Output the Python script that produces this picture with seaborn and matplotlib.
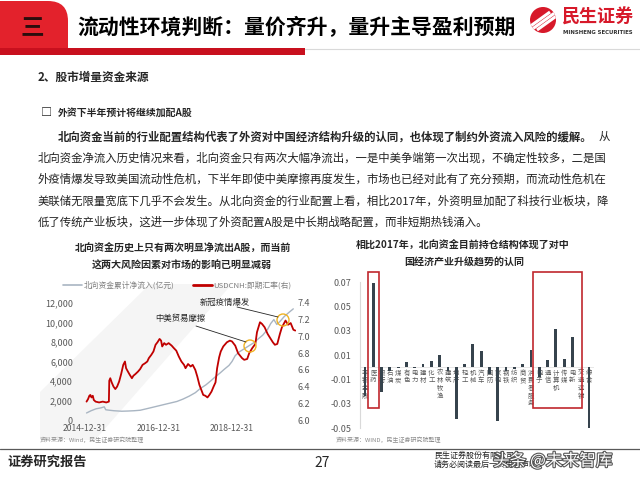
import pandas as pd
import numpy as np
import matplotlib
matplotlib.use("Agg")
import matplotlib.pyplot as plt
import matplotlib.patches as mpatches
import matplotlib.patheffects as pe
import seaborn as sns

# ---- left chart: northbound cumulative net inflow (100m CNY) ----
flow_dates = ["2015-01-15", "2015-03-01", "2015-04-20", "2015-06-10", "2015-07-10", "2015-07-25",
              "2015-09-01", "2015-10-15", "2015-12-31", "2016-03-01", "2016-05-01", "2016-07-01",
              "2016-09-01", "2016-11-01", "2016-12-31", "2017-03-01", "2017-05-01", "2017-07-01",
              "2017-09-01", "2017-11-01", "2017-12-31", "2018-02-15", "2018-04-15", "2018-06-01",
              "2018-07-15", "2018-09-01", "2018-10-15", "2018-12-01", "2018-12-31", "2019-02-01",
              "2019-03-15", "2019-05-01", "2019-06-15", "2019-08-01", "2019-09-15", "2019-11-01",
              "2019-12-20", "2020-01-20", "2020-02-20", "2020-03-20", "2020-04-20", "2020-06-01",
              "2020-07-15", "2020-08-31"]
flow_vals = [720, 950, 1150, 1250, 1350, 1050,
             1000, 950, 900, 920, 950, 1000,
             1150, 1300, 1450, 1600, 1750, 1900,
             2150, 2450, 2800, 3200, 3600, 4000,
             4400, 4800, 5200, 5600, 6000, 6600,
             7000, 7300, 7600, 7900, 8300, 8700,
             9300, 9900, 10300, 9800, 10100, 10600,
             11000, 11400]

# ---- left chart: USDCNH spot (right axis) ----
fx_dates = ["2015-01-15", "2015-01-30", "2015-02-12", "2015-02-22", "2015-03-05", "2015-03-18",
            "2015-03-28", "2015-04-15", "2015-05-20", "2015-06-25", "2015-07-30", "2015-08-25",
            "2015-08-29", "2015-09-08", "2015-09-22", "2015-10-10", "2015-10-28", "2015-11-15",
            "2015-12-05", "2015-12-25", "2016-01-15", "2016-02-01", "2016-02-12", "2016-03-01",
            "2016-03-20", "2016-04-10", "2016-04-25", "2016-05-15", "2016-06-10", "2016-07-01",
            "2016-07-25", "2016-08-20", "2016-09-10", "2016-09-25", "2016-10-20", "2016-11-10",
            "2016-12-01", "2016-12-20", "2017-01-10", "2017-01-25", "2017-02-05", "2017-02-25",
            "2017-03-15", "2017-04-10", "2017-05-10", "2017-06-01", "2017-06-25", "2017-07-20",
            "2017-08-15", "2017-09-10", "2017-09-25", "2017-10-20", "2017-11-15", "2017-12-05",
            "2017-12-31", "2018-01-20", "2018-02-10", "2018-03-01", "2018-03-20", "2018-04-10",
            "2018-05-01", "2018-05-20", "2018-06-10", "2018-07-01", "2018-07-20", "2018-08-05",
            "2018-08-25", "2018-09-10", "2018-10-05", "2018-11-10", "2018-12-10", "2018-12-31",
            "2019-02-01", "2019-03-01", "2019-04-10", "2019-05-01", "2019-05-31", "2019-06-20",
            "2019-07-20", "2019-08-20", "2019-09-05", "2019-10-05", "2019-10-25", "2019-11-20",
            "2019-12-20", "2020-01-20", "2020-02-10", "2020-03-01", "2020-03-25", "2020-04-20",
            "2020-05-10", "2020-06-15", "2020-07-10", "2020-08-05", "2020-09-01", "2020-09-20"]
fx_vals = [6.22, 6.25, 6.29, 6.30, 6.27, 6.29,
           6.24, 6.22, 6.21, 6.22, 6.21, 6.22,
           6.47, 6.50, 6.45, 6.40, 6.37, 6.40,
           6.46, 6.55, 6.66, 6.70, 6.62, 6.58,
           6.54, 6.50, 6.53, 6.55, 6.58, 6.61,
           6.66, 6.68, 6.70, 6.74, 6.78, 6.82,
           6.90, 6.93, 6.97, 6.95, 6.88, 6.92,
           6.90, 6.92, 6.89, 6.86, 6.83, 6.76,
           6.70, 6.66, 6.62, 6.67, 6.64, 6.66,
           6.60, 6.52, 6.42, 6.36, 6.30, 6.29,
           6.27, 6.30, 6.34, 6.40, 6.45, 6.62,
           6.75, 6.82, 6.88, 6.93, 6.95, 6.94,
           6.89, 6.80, 6.74, 6.72, 6.73, 6.80,
           6.86, 6.91, 7.05, 7.17, 7.15, 7.11,
           7.03, 6.97, 6.93, 6.90, 6.91, 7.03,
           7.11, 7.19, 7.14, 7.16, 7.08, 7.07]
date_ticks = ["2014-12-31", "2016-12-31", "2018-12-31"]

# ---- right chart: change in northbound holding weight vs 2017 ----
industries = ["非银金融", "医药", "银行", "石油", "煤炭", "有色", "电力", "建材", "化工", "农林牧渔",
              "建筑", "地产", "轻工", "机械", "汽车", "国防", "家电", "钢铁", "纺织", "商贸",
              "消费者服务", "电子", "通信", "计算机", "传媒", "电新", "交通运输", "综合"]
weight_chg = [-0.024, 0.069, -0.020, -0.003, -0.0005, 0.004, -0.0005, 0.003, 0.005, 0.010,
              -0.003, -0.043, 0.003, 0.019, 0.013, -0.006, -0.044, -0.003, -0.0015, 0.003,
              0.014, -0.008, 0.0055, 0.031, 0.007, 0.025, 0.0005, -0.051]

sns.set_theme(style="white")
plt.rcParams['font.family'] = ['Noto Sans CJK SC', 'DejaVu Sans']
plt.rcParams['axes.unicode_minus'] = False

fig = plt.figure(figsize=(6.4, 4.8), dpi=100)


def px(x0, y0, x1, y1):
    # pixel box -> figure fraction
    return [x0 / 640, 1 - y1 / 480, (x1 - x0) / 640, (y1 - y0) / 480]


page = fig.add_axes([0, 0, 1, 1], zorder=0)
page.set_xlim(0, 640)
page.set_ylim(480, 0)
page.axis("off")

# faint background swoosh behind the left chart
page.add_patch(mpatches.Polygon([(40, 392), (150, 284), (232, 284), (95, 440), (40, 440)],
                                closed=True, fc="#f5f5f5", ec="none"))

# header tab + rule
page.add_patch(mpatches.FancyBboxPatch((-30, 1), 98, 70, boxstyle="round,pad=0,rounding_size=20",
                                       fc="#e3222c", ec="none"))
page.add_patch(mpatches.Rectangle((0, 55), 120, 30, fc="white", ec="none"))
page.add_patch(mpatches.Rectangle((0, 48), 305, 7, fc="#c8101e", ec="none"))
page.plot([305, 640], [48.5, 48.5], color="#d9d9d9", lw=0.8)
page.text(32, 28, "三", fontsize=17, fontweight="bold", color="#2b0d0d", ha="center", va="center")
page.text(77, 28, "流动性环境判断：量价齐升，量升主导盈利预期", fontsize=15, fontweight="bold",
          color="black", ha="left", va="center")

# logo
logo = mpatches.Circle((543, 20), 13, fc="#d7192a", ec="none")
page.add_patch(logo)
for dx in (-6, 0, 6):
    ln, = page.plot([531 + dx, 556 + dx], [30, 12], color="white", lw=2.2, solid_capstyle="butt")
    ln.set_clip_path(logo)
page.text(562, 17, "民生证券", fontsize=13, fontweight="bold", color="#d7192a", ha="left", va="center")
page.text(563, 32, "MINSHENG SECURITIES", fontsize=3.9, fontweight="bold", color="#333333",
          ha="left", va="center", family="DejaVu Sans")

# section text
page.text(38, 77, "2、股市增量资金来源", fontsize=8.4, fontweight="bold", ha="left", va="center")
page.text(41, 113, "□", fontsize=8, fontweight="bold", ha="left", va="center")
page.text(58, 113, "外资下半年预计将继续加配A股", fontsize=7.1, fontweight="bold", ha="left", va="center")
page.text(58, 137, "北向资金当前的行业配置结构代表了外资对中国经济结构升级的认同，也体现了制约外资流入风险的缓解。",
          fontsize=8.2, fontweight="bold", ha="left", va="center")
page.text(599, 137, "从", fontsize=8.2, ha="left", va="center")
para = ["北向资金净流入历史情况来看，北向资金只有两次大幅净流出，一是中美争端第一次出现，不确定性较多，二是国",
        "外疫情爆发导致美国流动性危机，下半年即使中美摩擦再度发生，市场也已经对此有了充分预期，而流动性危机在",
        "美联储无限量宽底下几乎不会发生。从北向资金的行业配置上看，相比2017年，外资明显加配了科技行业板块，降",
        "低了传统产业板块，这进一步体现了外资配置A股是中长期战略配置，而非短期热钱涌入。"]
for k, line in enumerate(para):
    page.text(38, 158 + 21.3 * k, line, fontsize=8.2, ha="left", va="center", color="#222222")

# chart titles
page.text(183, 248, "北向资金历史上只有两次明显净流出A股，而当前", fontsize=7.2, fontweight="bold",
          ha="center", va="center")
page.text(182, 266, "这两大风险因素对市场的影响已明显减弱", fontsize=7.2, fontweight="bold",
          ha="center", va="center")
page.text(463, 245, "相比2017年，北向资金目前持仓结构体现了对中", fontsize=7.2, fontweight="bold",
          ha="center", va="center")
page.text(464, 262, "国经济产业升级趋势的认同", fontsize=7.2, fontweight="bold", ha="center", va="center")

# legend of left chart
page.plot([63, 82], [285, 285], color="#a9b5c2", lw=1.2)
page.text(84, 285, "北向资金累计净流入(亿元)", fontsize=5.6, color="#7f7f7f", ha="left", va="center")
page.plot([193, 212], [285, 285], color="#c00000", lw=2)
page.text(213, 285, "USDCNH:即期汇率(右)", fontsize=5.6, color="#7f7f7f", ha="left", va="center")

# sources
page.text(40, 440, "资料来源：Wind，民生证券研究院整理", fontsize=4.3, color="#8c8c8c", ha="left", va="center")
page.text(336, 440, "资料来源：WIND，民生证券研究院整理", fontsize=4.3, color="#8c8c8c", ha="left", va="center")

# footer
page.plot([0, 640], [449, 449], color="#595959", lw=0.9)
page.text(7, 462, "证券研究报告", fontsize=9.5, fontweight="bold", ha="left", va="center")
page.text(322, 463, "27", fontsize=10, ha="center", va="center")
page.text(434, 455, "民生证券股份有限公司", fontsize=5.8, ha="left", va="center", color="#222222")
page.text(434, 464, "请务必阅读最后一页免责声明", fontsize=5.8, ha="left", va="center", color="#222222")
page.text(493, 461, "头条 @未来智库", fontsize=12, color="white", ha="left", va="center",
          path_effects=[pe.withStroke(linewidth=1.6, foreground="#555555")])

# ---- left chart ----
ax1 = fig.add_axes(px(80, 303, 296, 420), zorder=2)
ax1.patch.set_alpha(0)
sns.lineplot(x=pd.to_datetime(flow_dates), y=flow_vals, ax=ax1, color="#a9b5c2", linewidth=1.0)
ax1.set_ylim(0, 12000)
ax1.set_yticks(range(0, 12001, 2000))
ax1.set_yticklabels([f"{v:,}" for v in range(0, 12001, 2000)])
ax2 = ax1.twinx()
sns.lineplot(x=pd.to_datetime(fx_dates), y=fx_vals, ax=ax2, color="#c00000", linewidth=1.3)
ax2.set_ylim(6.0, 7.4)
ax2.set_yticks(np.arange(6.0, 7.41, 0.2))
ax2.set_yticklabels([f"{v:.1f}" for v in np.arange(6.0, 7.41, 0.2)])
ax1.set_xlim(pd.Timestamp("2014-11-11"), pd.Timestamp("2020-09-27"))
ax1.set_xticks(pd.to_datetime(date_ticks))
ax1.set_xticklabels(date_ticks)
for a in (ax1, ax2):
    a.set_xlabel("")
    a.set_ylabel("")
    for s in a.spines.values():
        s.set_visible(False)
    a.tick_params(length=0, labelsize=6.5, labelcolor="#595959")
ax1.tick_params(axis="y", pad=5)
ax1.tick_params(axis="x", pad=3, labelsize=6.2)
ax2.tick_params(axis="y", pad=1)

# ---- right chart ----
ax3 = fig.add_axes(px(360, 282, 594, 428), zorder=2)
ax3.patch.set_alpha(0)
sns.barplot(x=industries, y=weight_chg, ax=ax3, color="#36434d", saturation=1, width=0.34,
            linewidth=0, edgecolor="none", zorder=2)
ax3.set_ylim(-0.05, 0.07)
ax3.set_xlim(-0.6, len(industries) - 0.4)
yt = np.arange(-0.05, 0.0701, 0.02)
ax3.set_yticks(yt)
ax3.set_yticklabels([f"{v:.2f}" for v in yt])
ax3.set_xticks([])
ax3.set_xlabel("")
ax3.set_ylabel("")
for s in ("top", "right", "bottom"):
    ax3.spines[s].set_visible(False)
ax3.spines["left"].set_color("#d9d9d9")
ax3.spines["left"].set_linewidth(0.8)
ax3.axhline(0, color="#e3e3e3", lw=0.6, zorder=1)
ax3.tick_params(length=0, labelsize=6.5, labelcolor="#595959", pad=6)
for i, name in enumerate(industries):
    ax3.text(i, -0.0012, "\n".join(name), fontsize=4.6, color="#595959", ha="center", va="top",
             linespacing=0.95, zorder=1)

# ---- overlay: highlight boxes and annotations ----
top = fig.add_axes([0, 0, 1, 1], zorder=5)
top.set_xlim(0, 640)
top.set_ylim(480, 0)
top.axis("off")
top.patch.set_alpha(0)
for x0, w in ((368, 11), (533, 49)):
    top.add_patch(mpatches.Rectangle((x0, 272), w, 136, fill=False, ec="#c0282d", lw=1.2))
top.text(180, 318, "中美贸易摩擦", fontsize=6, color="#262626", ha="center", va="center")
top.plot([196, 246], [326, 342], color="#262626", lw=0.6)
top.add_patch(mpatches.Circle((250, 346), 6, fill=False, ec="#f0b323", lw=1))
top.text(225, 302, "新冠疫情爆发", fontsize=6, color="#262626", ha="center", va="center")
top.plot([237, 278], [307, 317], color="#262626", lw=0.6)
top.add_patch(mpatches.Circle((283, 320), 6, fill=False, ec="#f0b323", lw=1))

fig.savefig("out.png", dpi=100)
